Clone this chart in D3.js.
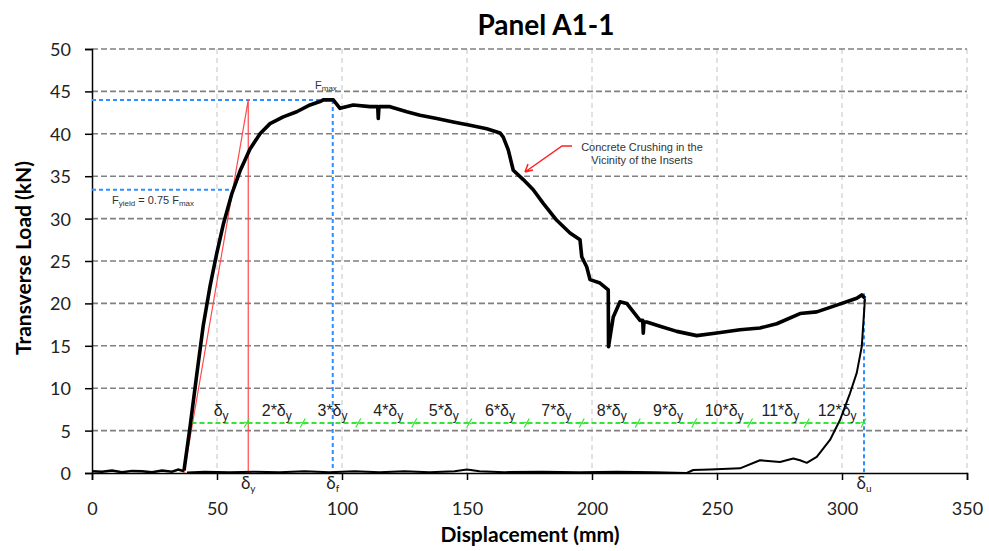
<!doctype html>
<html>
<head>
<meta charset="utf-8">
<style>
  body { margin: 0; background: #fff; }
  .tick text { font-family: Lato, "Open Sans", sans-serif; font-size: 18px; fill: #222; }
  .ann { font-family: "Liberation Sans", Arial, sans-serif; fill: #333; }
</style>
<script src="https://d3js.org/d3.v7.min.js"></script>
</head>
<body>
<svg width="989" height="551"></svg>
<script>

// load-displacement readings [mm, kN]
var preload = [[0,0.2],[4,0.15],[8,0.3],[12,0.1],[16,0.25],[20,0.2],[24,0.1],[28,0.3],[32,0.15],[34.5,0.4],[36.8,0.2]]

var envelope = [[36.8,0.3],[39.2,5.4],[41.9,11.6],[44.5,17.4],[47.2,22.0],[49.9,25.9],[52.5,29.3],[55.9,32.9],
    [59.2,35.6],[63.2,38.2],[67.2,40.0],[71.2,41.2],[76.5,42.0],[81.9,42.6],[87.2,43.4],[91.2,43.8],[92.5,44.0],
    [96.5,44.0],[99.2,43.0],[104.5,43.4],[111.2,43.2],[114.3,43.2],[114.5,41.8],[114.8,43.2],[119.2,43.2],
    [125.9,42.6],[131.2,42.2],[137.9,41.8],[144.5,41.4],[151.2,41.0],[157.9,40.6],[163.2,40.1],[164.5,39.6],
    [166.5,38.1],[168.5,35.7],[172.5,34.6],[176.5,33.4],[180.5,31.8],[185.9,29.8],[191.2,28.3],[195.2,27.5],
    [195.9,25.5],[197.9,24.3],[199.2,22.8],[203.2,22.4],[206.5,21.6],[206.6,14.9],[208.5,18.4],[211.2,20.2],
    [213.9,20.0],[219.2,18.0],[220.3,18.0],[220.5,16.5],[220.8,17.8],[221.9,17.8],[227.2,17.3],[233.9,16.7],
    [241.9,16.2],[249.9,16.5],[259.2,16.9],[267.2,17.1],[273.9,17.6],[283.2,18.8],[289.9,19.0],[297.9,19.8],
    [305.9,20.6],[307.9,21.0],[309.2,20.6]]

var unload = [[309.2,20.6],[307.9,14.9],[305.9,11.8],[303.2,9.4],[299.2,6.25],[295.2,3.9],[289.9,1.9],
    [285.9,1.2],[283.2,1.5],[280.5,1.7],[275.2,1.3],[267.2,1.5],[259.2,0.55],[247.2,0.4],[240.5,0.35],
    [237.9,0],[225,0.1],[210,0.15],[195,0.1],[180,0.15],[165,0.1],[155,0.2],[150,0.4],[145,0.2],[135,0.1],
    [125,0.2],[115,0.1],[105,0.2],[95,0.1],[85,0.2],[75,0.1],[65,0.15],[55,0.1],[45,0.15],[38,0.05]]

// key values
var Fmax = 44.0, Fyield = 33.4
var dYieldStart = 36.8, dYield = 62.5, dFmax = 96.3, dUlt = 308.8, dYieldCross = 56
var Fult = 21.2

// ductility bands (green line)
var ductLevel = 5.9
var ductTicks = [39.8, 61.9, 84.3, 106.5, 128.9, 150.9, 173.9, 195.9, 218.3, 240.9, 263.2, 285.9, 308.6]
var ductLabels = ["1","2*","3*","4*","5*","6*","7*","8*","9*","10*","11*","12*"]

var xTicks = [0,50,100,150,200,250,300,350]
var yTicks = [0,5,10,15,20,25,30,35,40,45,50]

var svg = d3.select("svg")
var x = d3.scaleLinear().domain([0,350]).range([92,967])
var y = d3.scaleLinear().domain([0,50]).range([473,49])

// grid
svg.append("g").selectAll("line").data(xTicks.slice(1)).enter().append("line")
   .attr("x1", d => x(d)).attr("x2", d => x(d)).attr("y1", y(50)).attr("y2", y(0))
   .attr("stroke", "#c4c4c4").attr("stroke-width", 1).attr("stroke-dasharray", "5,4")
svg.append("g").selectAll("line").data(yTicks.slice(1)).enter().append("line")
   .attr("x1", x(0)).attr("x2", x(350)).attr("y1", d => y(d)).attr("y2", d => y(d))
   .attr("stroke", "#808080").attr("stroke-width", 1.6).attr("stroke-dasharray", "6,3")

// axes
var xAxis = svg.append("g").attr("transform", "translate(0," + y(0) + ")")
   .call(d3.axisBottom(x).tickValues(xTicks).tickSize(7).tickPadding(22))
var yAxis = svg.append("g").attr("transform", "translate(" + x(0) + ",0)")
   .call(d3.axisLeft(y).tickValues(yTicks).tickSize(7).tickPadding(14))
svg.selectAll(".domain, .tick line").attr("stroke", "#000").attr("stroke-width", 1.5)
yAxis.selectAll(".tick text").attr("dy", "0.36em")

// blue reference lines
var blue = "#2f8fff"
function blueLine(x1, y1, x2, y2) {
    svg.append("line").attr("x1", x(x1)).attr("y1", y(y1)).attr("x2", x(x2)).attr("y2", y(y2))
       .attr("stroke", blue).attr("stroke-width", 2).attr("stroke-dasharray", "4,3")
}
blueLine(0, Fmax, dFmax, Fmax)
blueLine(dFmax, Fmax, dFmax, 0)
blueLine(0, Fyield, dYieldCross, Fyield)
blueLine(dUlt, Fult, dUlt, 0)

// red yield construction
svg.append("path")
   .attr("d", d3.line().x(d => x(d[0])).y(d => y(d[1]))([[dYieldStart,0],[dYield,Fmax],[dYield,0]]))
   .attr("fill", "none").attr("stroke", "#ff4a4a").attr("stroke-width", 1.2)

// green ductility line
var green = "#33e633"
svg.append("line").attr("x1", x(ductTicks[0])).attr("x2", x(dUlt))
   .attr("y1", y(ductLevel)).attr("y2", y(ductLevel))
   .attr("stroke", green).attr("stroke-width", 2).attr("stroke-dasharray", "5,3")
svg.append("g").selectAll("path").data(ductTicks.slice(1)).enter().append("path")
   .attr("d", d => "M" + (x(d) - 2.5) + "," + (y(ductLevel) + 4.5) + "L" + (x(d) + 2.5) + "," + (y(ductLevel) - 4.5)
                 + "M" + (x(d) - 2.5) + "," + (y(ductLevel) - 1) + "L" + (x(d) + 2.5) + "," + (y(ductLevel) + 1))
   .attr("stroke", green).attr("stroke-width", 1.2).attr("fill", "none")

var dl = svg.append("g").selectAll("text").data(ductLabels).enter().append("text")
   .attr("x", (d, i) => (x(ductTicks[i]) + x(ductTicks[i + 1])) / 2 + 2)
   .attr("y", 416)
   .attr("text-anchor", "middle")
   .attr("font-family", "'Liberation Sans', Arial, sans-serif").attr("font-size", 16).attr("fill", "#222")
dl.append("tspan").text(d => d == "1" ? "\u03b4" : d + "\u03b4")
dl.append("tspan").attr("dy", 4).attr("font-size", 12).text("y")

// curve
var line = d3.line().x(d => x(d[0])).y(d => y(d[1]))
svg.append("path").attr("d", line(preload)).attr("fill", "none").attr("stroke", "#000").attr("stroke-width", 2.5)
svg.append("path").attr("d", line(unload)).attr("fill", "none").attr("stroke", "#000").attr("stroke-width", 2)
   .attr("stroke-linejoin", "round")
svg.append("path").attr("d", line(envelope)).attr("fill", "none").attr("stroke", "#000").attr("stroke-width", 3.6)
   .attr("stroke-linejoin", "round")

// annotations
var fm = svg.append("text").attr("class", "ann").attr("x", 315).attr("y", 89).attr("font-size", 11)
fm.append("tspan").text("F")
fm.append("tspan").attr("font-size", 8).attr("dy", 2).text("max")

var fy = svg.append("text").attr("class", "ann").attr("x", 112).attr("y", 204).attr("font-size", 11)
fy.append("tspan").text("F")
fy.append("tspan").attr("font-size", 8).attr("dy", 2).text("yield")
fy.append("tspan").attr("dy", -2).text(" = 0.75 F")
fy.append("tspan").attr("font-size", 8).attr("dy", 2).text("max")

svg.append("text").attr("class", "ann").attr("x", 642).attr("y", 151).attr("font-size", 11)
   .attr("text-anchor", "middle").text("Concrete Crushing in the")
svg.append("text").attr("class", "ann").attr("x", 642).attr("y", 164).attr("font-size", 11)
   .attr("text-anchor", "middle").text("Vicinity of the Inserts")
svg.append("path").attr("d", "M572,146 L562,146 L525,172 M525,172 L528,164 M525,172 L533,170")
   .attr("fill", "none").attr("stroke", "#ff2020").attr("stroke-width", 1.5)

// delta labels under axis
var dMarks = [[dYield, "y"], [dFmax, "f"], [dUlt, "u"]]
var dm = svg.append("g").selectAll("text").data(dMarks).enter().append("text")
   .attr("x", d => x(d[0])).attr("y", 489).attr("text-anchor", "middle")
   .attr("font-family", "Lato, sans-serif").attr("font-size", 17).attr("fill", "#222")
dm.append("tspan").text("\u03b4")
dm.append("tspan").attr("dy", 3).attr("font-size", 10).text(d => d[1])

// titles
svg.append("text").attr("x", 546).attr("y", 35).attr("text-anchor", "middle")
   .attr("font-family", "Lato, sans-serif").attr("font-weight", "bold").attr("font-size", 28)
   .text("Panel A1-1")
svg.append("text").attr("x", 530).attr("y", 542).attr("text-anchor", "middle")
   .attr("font-family", "Lato, sans-serif").attr("font-weight", "bold").attr("font-size", 21)
   .text("Displacement (mm)")
svg.append("text").attr("transform", "translate(31,258) rotate(-90)").attr("text-anchor", "middle")
   .attr("font-family", "Lato, sans-serif").attr("font-weight", "bold").attr("font-size", 21)
   .text("Transverse Load (kN)")

</script>
</body>
</html>
